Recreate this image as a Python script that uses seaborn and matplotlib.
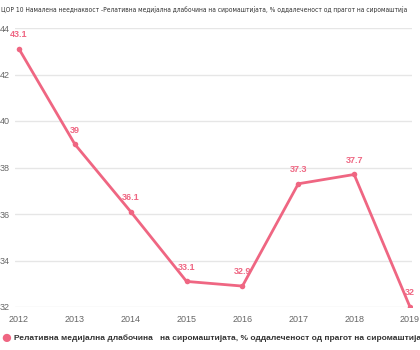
import matplotlib
matplotlib.use("Agg")
import matplotlib.pyplot as plt
import seaborn as sns
import pandas as pd

years = [2012, 2013, 2014, 2015, 2016, 2017, 2018, 2019]
values = [43.1, 39.0, 36.1, 33.1, 32.9, 37.3, 37.7, 32.0]
labels = ["43.1", "39", "36.1", "33.1", "32.9", "37.3", "37.7", "32"]
yticks = [32, 34, 36, 38, 40, 42, 44]
title = "ЦОР 10 Намалена нееднаквост -Релативна медијална длабочина на сиромаштијата, % оддалеченост од прагот на сиромаштија"
series_name = "Релативна медијална длабочина   на сиромаштијата, % оддалеченост од прагот на сиромаштија"

df = pd.DataFrame({"year": years, "value": values})

sns.set_theme(style="white")
plt.rcParams['font.family'] = ['Liberation Sans', 'DejaVu Sans']

color = "#ef6682"
fig = plt.figure(figsize=(4.2, 3.5), dpi=100)
ax = fig.add_axes([15/420, 43/350, 397/420, 279/350])

sns.lineplot(data=df, x="year", y="value", ax=ax, color=color, linewidth=2,
             marker="o", markersize=4, markeredgewidth=0, legend=False)

for x, y, t in zip(years, values, labels):
    ax.annotate(t, (x, y), xytext=(0, 7), textcoords="offset points",
                ha="center", va="bottom", fontsize=6.5, color=color, fontweight="bold")

ax.set_xlim(2012 - 4*7/391, 2019 + 2*7/391)
ax.set_ylim(32, 44)
ax.set_yticks(yticks)
ax.set_xticks(years)
ax.grid(axis="y", color="#e6e6e6", linewidth=1)
for s in ax.spines.values():
    s.set_visible(False)
ax.tick_params(axis="y", length=0, pad=4, labelsize=6.5, labelcolor="#666666")
ax.tick_params(axis="x", length=0, pad=6, labelsize=6.5, labelcolor="#666666")
ax.set_xlabel("")
ax.set_ylabel("")
ax.set_axisbelow(True)

def fit_text(x0, y, s, target_px, size, **kw):
    t = fig.text(x0, y, s, fontsize=size, va="center", ha="left", **kw)
    r = fig.canvas.get_renderer()
    w = t.get_window_extent(renderer=r).width
    t.set_fontsize(size * target_px / w)
    return t

fit_text(1/420, 1 - 10/350, title, 410, 7.5, color="#333333",
         family=['DejaVu Sans'], fontstretch='condensed')

fig.text(6/420, 1 - 338/350, "\u25CF", fontsize=14, color=color, va="center", ha="center")
fit_text(14/420, 1 - 338/350, series_name, 402, 7, color="#333333", fontweight="bold")

fig.savefig("out.png", dpi=100)
